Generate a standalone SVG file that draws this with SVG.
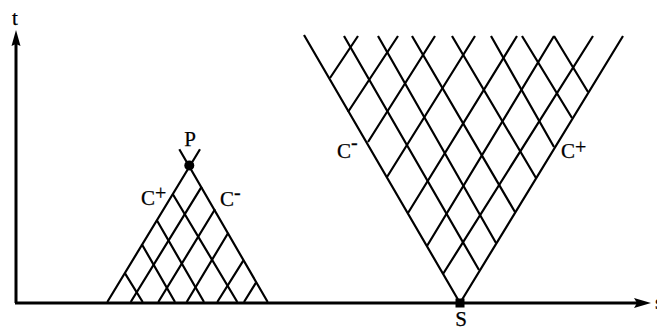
<svg xmlns="http://www.w3.org/2000/svg" width="657" height="327" viewBox="0 0 657 327">
<style>
.l{stroke:#000;stroke-width:2.200;fill:none}
.a{stroke:#000;stroke-width:3;fill:none}
.h{fill:#000;stroke:none}
text{font-family:"Liberation Serif","Times New Roman",serif;font-size:21px;fill:#000;stroke:#000;stroke-width:.25}
.s{font-size:20px}
</style>
<rect width="657" height="327" fill="#fff"/>
<g id="connectors">
<g id="axes">
<path class="a" d="M16 303V42M15 303H638"/>
<path class="h" d="M16 30L20.500 46L16 44L11.500 46Z"/>
<path class="h" d="M651 303L634 298L637 303L634 308Z"/>
</g>
<g id="cone-left">
<path class="l" d="M179.300 149.300L267.700 302M200 149.300L107.300 302"/>
<path class="l" d="M130.700 302L201.700 186.700M158.300 302L215 209.300M186.700 302L228.300 232.700M217.300 302L243.300 260.700M244 302L256 282.700"/>
<path class="l" d="M172.700 194L237.300 302M156.700 220L204 302M141.700 244L175 302M125 273.300L142.700 302"/>
</g>
<g id="cone-right">
<path class="l" d="M460 303L304 35M460 303L623 36"/>
<path class="l" d="M479 270L344 36M496 243L378 36M515 212L412 36M536 178L452 36M554 147L491 36M572 118L522 36M588 92L554 36"/>
<path class="l" d="M330 78L358 36M348 112L398 36M368 142L435 36M387 177L475 36M408 213L517 36M427 246L554 36M443 274L593 36"/>
</g>
</g>
<g id="node-P"><circle cx="189.300" cy="165.500" r="5"/><text x="190" y="146" text-anchor="middle">P</text></g>
<g id="node-S"><rect x="455.500" y="298.500" width="9" height="9"/><text x="461" y="326" text-anchor="middle">S</text></g>
<g id="label-t"><text x="12" y="25">t</text></g>
<g id="label-s"><text x="655" y="309">s</text></g>
<g id="label-cp-left"><text x="141" y="205">C<tspan class="s" dy="-5.500">+</tspan></text></g>
<g id="label-cm-left"><text x="220" y="206">C<tspan class="s" dy="-7">-</tspan></text></g>
<g id="label-cm-right"><text x="337" y="158">C<tspan class="s" dy="-9">-</tspan></text></g>
<g id="label-cp-right"><text x="561" y="158">C<tspan class="s" dy="-4.500">+</tspan></text></g>
</svg>
